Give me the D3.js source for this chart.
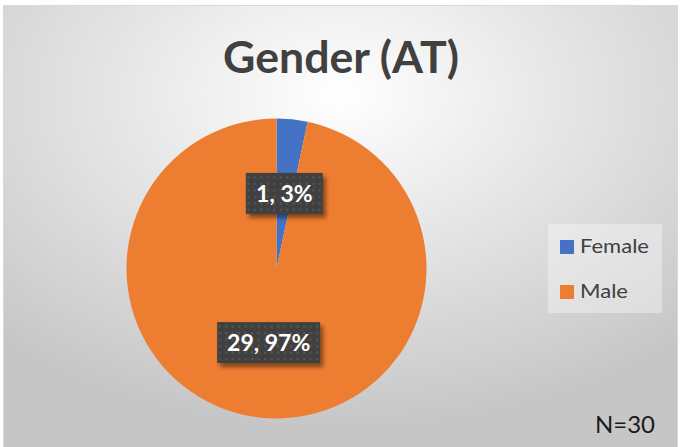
<!DOCTYPE html>
<html>
<head>
<meta charset="utf-8">
<script src="https://cdn.jsdelivr.net/npm/d3@7"></script>
<style>
  body { margin: 0; background: #fff; }
  svg { display: block; }
</style>
</head>
<body>
<script>
// data
var categories = ["Female", "Male"];
var counts = [1, 29];
var colors = ["#4472C4", "#ED7D31"];
var title = "Gender (AT)";
var note = "N=30";

var W = 681, H = 447;
var svg = d3.select("body").append("svg").attr("width", W).attr("height", H);
var defs = svg.append("defs");

// radial background like the office chart style
var grad = defs.append("radialGradient").attr("id", "bg")
  .attr("cx", "0.5").attr("cy", "0.2").attr("r", "0.75");
grad.append("stop").attr("offset", "0").attr("stop-color", "#ffffff");
grad.append("stop").attr("offset", "1").attr("stop-color", "#c6c6c6");

// dotted dark pattern for the data labels
var pat = defs.append("pattern").attr("id", "dots")
  .attr("patternUnits", "userSpaceOnUse").attr("width", 6.5).attr("height", 6.5);
pat.append("rect").attr("width", 6.5).attr("height", 6.5).attr("fill", "#404040");
pat.append("rect").attr("x", 2).attr("y", 2).attr("width", 2).attr("height", 2).attr("fill", "#585858");

var shadow = defs.append("filter").attr("id", "shadow")
  .attr("x", "-20%").attr("y", "-20%").attr("width", "150%").attr("height", "160%");
shadow.append("feDropShadow").attr("dx", 3).attr("dy", 4).attr("stdDeviation", 2)
  .attr("flood-color", "#000").attr("flood-opacity", 0.45);

// chart frame
svg.append("rect").attr("x", 3.5).attr("y", 5.5).attr("width", 674).attr("height", 445)
  .attr("fill", "url(#bg)").attr("stroke", "#d9d9d9").attr("stroke-width", 1);

// title
svg.append("text").attr("x", 341).attr("y", 73)
  .attr("text-anchor", "middle")
  .attr("font-family", "Lato, 'Open Sans', sans-serif").attr("font-weight", "bold")
  .attr("font-size", 43).attr("fill", "#404040")
  .attr("textLength", 236).attr("lengthAdjust", "spacingAndGlyphs")
  .text(title);

// pie
var cx = 276.5, cy = 268.5, r = 150;
var pie = d3.pie().sort(null).value(function(d) { return d; });
var arcs = pie(counts);
var arc = d3.arc().innerRadius(0).outerRadius(r);
var total = d3.sum(counts);

var g = svg.append("g").attr("transform", "translate(" + cx + "," + cy + ")");
g.selectAll("path.slice").data(arcs).enter().append("path")
  .attr("class", "slice")
  .attr("d", arc)
  .attr("fill", function(d, i) { return colors[i]; });

// labels
var labelW = [77, 103];
var lab = g.selectAll("g.lab").data(arcs).enter().append("g").attr("class", "lab")
  .attr("transform", function(d) {
    var c = arc.centroid(d);
    return "translate(" + c[0] + "," + c[1] + ")";
  });
lab.append("rect")
  .attr("x", function(d, i) { return -labelW[i] / 2; })
  .attr("y", -21).attr("width", function(d, i) { return labelW[i]; }).attr("height", 41)
  .attr("fill", "url(#dots)").attr("filter", "url(#shadow)");
lab.append("text")
  .attr("text-anchor", "middle").attr("y", 8)
  .attr("font-family", "Lato, 'Open Sans', sans-serif").attr("font-weight", "bold")
  .attr("font-size", 23).attr("fill", "#ffffff")
  .text(function(d) { return d.data + ", " + Math.round(d.data / total * 100) + "%"; });

// legend
var legendLen = [69, 48];
var lg = svg.append("g");
lg.append("rect").attr("x", 548).attr("y", 224).attr("width", 114).attr("height", 89)
  .attr("fill", "#ffffff").attr("fill-opacity", 0.35);
var items = lg.selectAll("g.item").data(categories).enter().append("g").attr("class", "item")
  .attr("transform", function(d, i) { return "translate(560," + (240 + i * 45) + ")"; });
items.append("rect").attr("width", 14).attr("height", 14)
  .attr("fill", function(d, i) { return colors[i]; });
items.append("text").attr("x", 20).attr("y", 13)
  .attr("font-family", "Lato, 'Open Sans', sans-serif").attr("font-size", 19)
  .attr("fill", "#404040")
  .attr("textLength", function(d, i) { return legendLen[i]; })
  .attr("lengthAdjust", "spacingAndGlyphs")
  .text(function(d) { return d; });

// sample size note
svg.append("text").attr("x", 655).attr("y", 433).attr("text-anchor", "end")
  .attr("font-family", "Lato, 'Open Sans', sans-serif").attr("font-size", 24)
  .attr("fill", "#1a1a1a").text(note);
</script>
</body>
</html>
